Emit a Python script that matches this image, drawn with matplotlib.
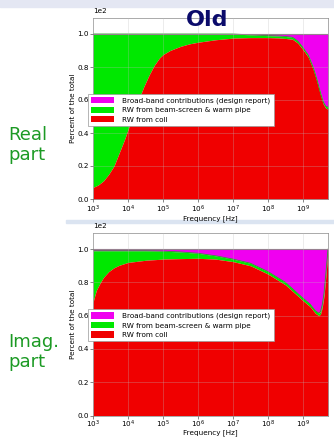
import numpy as np
import matplotlib
matplotlib.use('Agg')
import matplotlib.pyplot as plt
from matplotlib.patches import Rectangle
from matplotlib.ticker import ScalarFormatter, LogLocator, NullLocator

# %%
# Values (percent of the total, log10 of frequency)
real_logf = [3.0, 3.15, 3.3, 3.45, 3.6, 3.75, 3.9, 4.0, 4.15, 4.3, 4.45, 4.6, 4.75,
             4.9, 5.0, 5.2, 5.5, 5.75, 6.0, 6.5, 7.0, 7.5, 8.0, 8.3, 8.5, 8.7,
             8.85, 9.0, 9.15, 9.3, 9.4, 9.5, 9.58, 9.65, 9.714]
real_coil = [7, 8.5, 11, 15, 20, 28, 36, 42, 51, 60, 68, 75, 81,
             85.5, 87.5, 90, 92.5, 94, 95, 96.5, 97.5, 97.8, 97.8, 97.6, 97.3, 96.8,
             94.5, 90.5, 86, 78, 71, 63, 57.5, 55, 54.5]
real_rw_total = [100, 100, 100, 100, 100, 100, 100, 100, 100, 100, 100, 100, 100,
                 100, 100, 100, 100, 100, 100, 100, 100, 99.5, 99, 98.8, 98.5, 98,
                 95.7, 91.7, 87.2, 79.2, 72.2, 64.2, 58.7, 56.2, 55.7]

imag_logf = [3.0, 3.05, 3.1, 3.2, 3.3, 3.45, 3.6, 3.75, 4.0, 4.5, 5.0, 5.5, 6.0,
             6.5, 7.0, 7.5, 8.0, 8.5, 9.0, 9.2, 9.35, 9.45, 9.5, 9.55, 9.6,
             9.65, 9.69, 9.714]
imag_coil = [68, 72, 75.5, 79.5, 83, 86.5, 88.8, 90.3, 92, 93.3, 94, 94.3, 94.5,
             94, 92.5, 90, 85, 78.5, 69, 65.5, 61.5, 60, 61, 65, 72,
             83, 93, 100]
imag_rw_total = [99, 99, 99, 99, 99, 99, 99, 99, 99, 99, 98.8, 98.3, 97.5,
                 96, 94, 91.5, 86.5, 80, 70.5, 67, 63, 61.5, 62.5, 66.5, 73.5,
                 84.5, 94, 100]

labels = ['Broad-band contributions (design report)',
          'RW from beam-screen & warm pipe',
          'RW from coll']
colors = ['#f000f0', '#00e800', '#f00000']

# %%
W, H = 334, 437
fig = plt.figure(figsize=(W / 100, H / 100), dpi=100)

# slide background: lavender strip on top, blue gradient column on the left
bg = fig.add_axes([0, 0, 1, 1], zorder=-10)
bg.set_xlim(0, W)
bg.set_ylim(H, 0)
bg.axis('off')
bg.add_patch(Rectangle((0, 0), W, H, color='white'))
bg.add_patch(Rectangle((0, 0), W, 7, color='#e4e7f3'))
grad = np.linspace(0, 1, 200)[:, None]
cmap = matplotlib.colors.LinearSegmentedColormap.from_list(
    'side', ['#a4c2ea', '#c4d5ee', '#d6e1f1', '#d8e2f1'])
bg.imshow(grad, cmap=cmap, extent=[0, 66, H, 7], aspect='auto')
bg.add_patch(Rectangle((66, 220), W, 3, color='#dbe4f1'))

fig.text(8 / W, 1 - 145 / H, 'Real\npart', color='#1c9a24', fontsize=13,
         va='center', ha='left', linespacing=1.15)
fig.text(8 / W, 1 - 352 / H, 'Imag.\npart', color='#1c9a24', fontsize=13,
         va='center', ha='left', linespacing=1.1)
fig.text(207 / W, 1 - 20 / H, 'Old', color='#0b0b6b', fontsize=16,
         fontweight='bold', ha='center', va='center')


def draw_panel(rect, logf, coil, rw_total, leg_top, xlabelpad, xpad):
    ax = fig.add_axes(rect)
    f = 10.0 ** np.array(logf)
    coil = np.array(coil)
    rw_total = np.array(rw_total)
    ax.fill_between(f, rw_total, 100, color=colors[0], lw=0, label=labels[0])
    ax.fill_between(f, coil, rw_total, color=colors[1], lw=0, label=labels[1])
    ax.plot(f, rw_total, color='#2aa02a', lw=0.6)
    ax.fill_between(f, 0, coil, color=colors[2], lw=0, label=labels[2])
    ax.plot(f, [100] * len(f), color='#8a6a80', lw=0.8)
    ax.set_xscale('log')
    ax.set_xlim(1e3, 10 ** 9.714)
    ax.set_ylim(0, 110)
    ax.xaxis.set_major_locator(LogLocator(base=10, numticks=10))
    ax.xaxis.set_minor_locator(NullLocator())
    ax.set_yticks([0, 20, 40, 60, 80, 100])
    fmt = ScalarFormatter()
    fmt.set_powerlimits((-1, 1))
    ax.yaxis.set_major_formatter(fmt)
    ax.yaxis.get_offset_text().set_fontsize(5.2)
    ax.tick_params(labelsize=5.2, length=2, width=0.5, pad=1.2, color='#555555')
    ax.tick_params(axis='x', pad=xpad)
    ax.grid(True, color='#bbbbbb', lw=0.4, alpha=0.5)
    ax.set_axisbelow(False)
    for s in ax.spines.values():
        s.set_linewidth(0.5)
        s.set_color('#888888')
    ax.set_xlabel('Frequency [Hz]', fontsize=5.2, labelpad=xlabelpad)
    ax.set_ylabel('Percent of the total', fontsize=5.2, labelpad=1)
    leg = ax.legend(loc='upper left', bbox_to_anchor=(-0.022, leg_top),
                    borderaxespad=0, fontsize=5.2, fancybox=False,
                    framealpha=1, edgecolor='#999999', handlelength=3.2,
                    handleheight=1.0, borderpad=0.4, labelspacing=0.35,
                    handletextpad=1.2)
    leg.get_frame().set_linewidth(0.5)
    return ax


draw_panel([93 / W, 1 - 199 / H, 235 / W, 181.5 / H],
           real_logf, real_coil, real_rw_total, 0.578, 0.5, 1.2)
draw_panel([93 / W, 1 - 415.5 / H, 235 / W, 183 / H],
           imag_logf, imag_coil, imag_rw_total, 0.58, -0.6, 0.6)

fig.savefig('out.png', dpi=100)
